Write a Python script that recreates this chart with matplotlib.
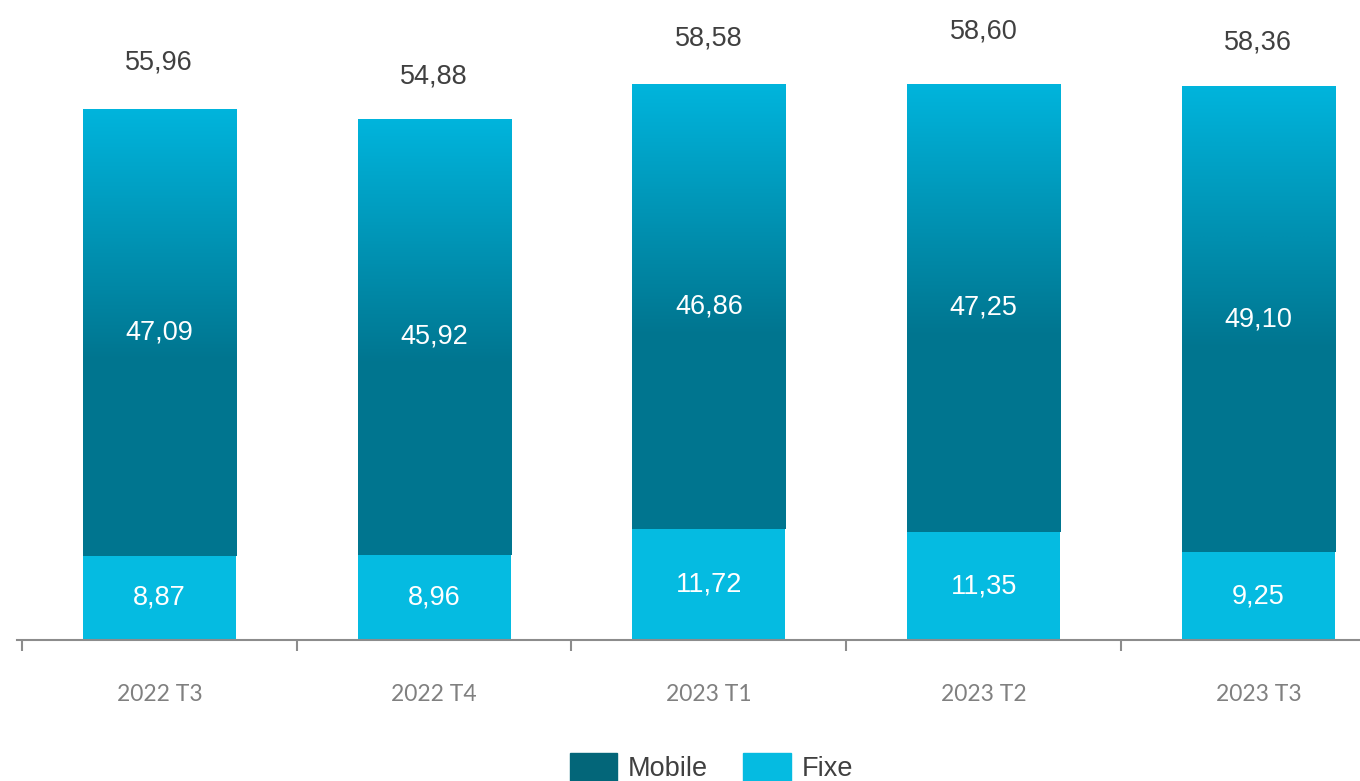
import numpy as np
import matplotlib.pyplot as plt
from matplotlib.patches import Patch
from matplotlib.colors import LinearSegmentedColormap

categories = ['2022 T3', '2022 T4', '2023 T1', '2023 T2', '2023 T3']
fixe = [8.87, 8.96, 11.72, 11.35, 9.25]
mobile = [47.09, 45.92, 46.86, 47.25, 49.10]
totals = [55.96, 54.88, 58.58, 58.60, 58.36]
# hauteur des étiquettes de total au-dessus des barres
label_offsets = [4.9, 4.5, 4.8, 5.5, 4.6]

c_fixe = '#05BBE1'
c_mob_dark = '#00758F'
c_mob_light = '#00B4DC'
c_legend_mob = '#036679'

def fmt(v):
    return f'{v:.2f}'.replace('.', ',')

fig = plt.figure(figsize=(13.6, 7.81), dpi=100)
ax = fig.add_axes([17 / 1360, 141 / 781, 1 - 17 / 1360, 640 / 781])

x = np.arange(len(categories))
w = 0.557

bars_f = ax.bar(x, fixe, w, color=c_fixe, zorder=2)
bars_m = ax.bar(x, mobile, w, bottom=fixe, color='none', zorder=2)

# dégradé dans la partie Mobile : clair en haut, foncé à partir du milieu
grad = np.concatenate([np.zeros(43), np.linspace(0, 1, 57)])[:, None]
cmap = LinearSegmentedColormap.from_list('mob', [c_mob_dark, c_mob_light])
for i, b in enumerate(bars_m):
    im = ax.imshow(grad, cmap=cmap, aspect='auto', origin='lower',
                   extent=[x[i] - w / 2, x[i] + w / 2, fixe[i], fixe[i] + mobile[i]],
                   zorder=2, interpolation='bilinear')
    im.set_clip_path(b)

for i in range(len(categories)):
    ax.text(x[i], fixe[i] / 2, fmt(fixe[i]), ha='center', va='center',
            color='white', fontsize=19.5, family='Liberation Sans', zorder=3)
    ax.text(x[i], fixe[i] + mobile[i] / 2, fmt(mobile[i]), ha='center', va='center',
            color='white', fontsize=19.5, family='Liberation Sans', zorder=3)
    ax.text(x[i], totals[i] + label_offsets[i], fmt(totals[i]), ha='center', va='center',
            color='#404040', fontsize=19.5, family='Liberation Sans', zorder=3)

ax.set_xlim(-0.518, 4.37)
ax.set_ylim(0, 67.4)
for s in ['top', 'right', 'left']:
    ax.spines[s].set_visible(False)
ax.spines['bottom'].set_color('#8C8C8C')
ax.spines['bottom'].set_linewidth(1.5)
ax.set_yticks([])

ax.set_xticks(x)
ax.set_xticklabels(categories, fontsize=16.5, color='#808080', family='Lato')
ax.tick_params(axis='x', which='major', length=0, pad=32)
ax.set_xticks(np.arange(len(categories)) - 0.5, minor=True)
ax.tick_params(axis='x', which='minor', length=8, width=1.5, color='#8C8C8C', direction='out')

handles = [Patch(color=c_legend_mob, label='Mobile'), Patch(color=c_fixe, label='Fixe')]
fig.legend(handles=handles, loc='upper center', bbox_to_anchor=(0.523, 28 / 781),
           ncol=2, frameon=False, prop={'family': 'Liberation Sans', 'size': 19.5},
           labelcolor='#404040', handlelength=1.75, handleheight=1.2,
           handletextpad=0.4, columnspacing=1.3, borderpad=0, borderaxespad=0)

fig.savefig('out.png', dpi=100)
